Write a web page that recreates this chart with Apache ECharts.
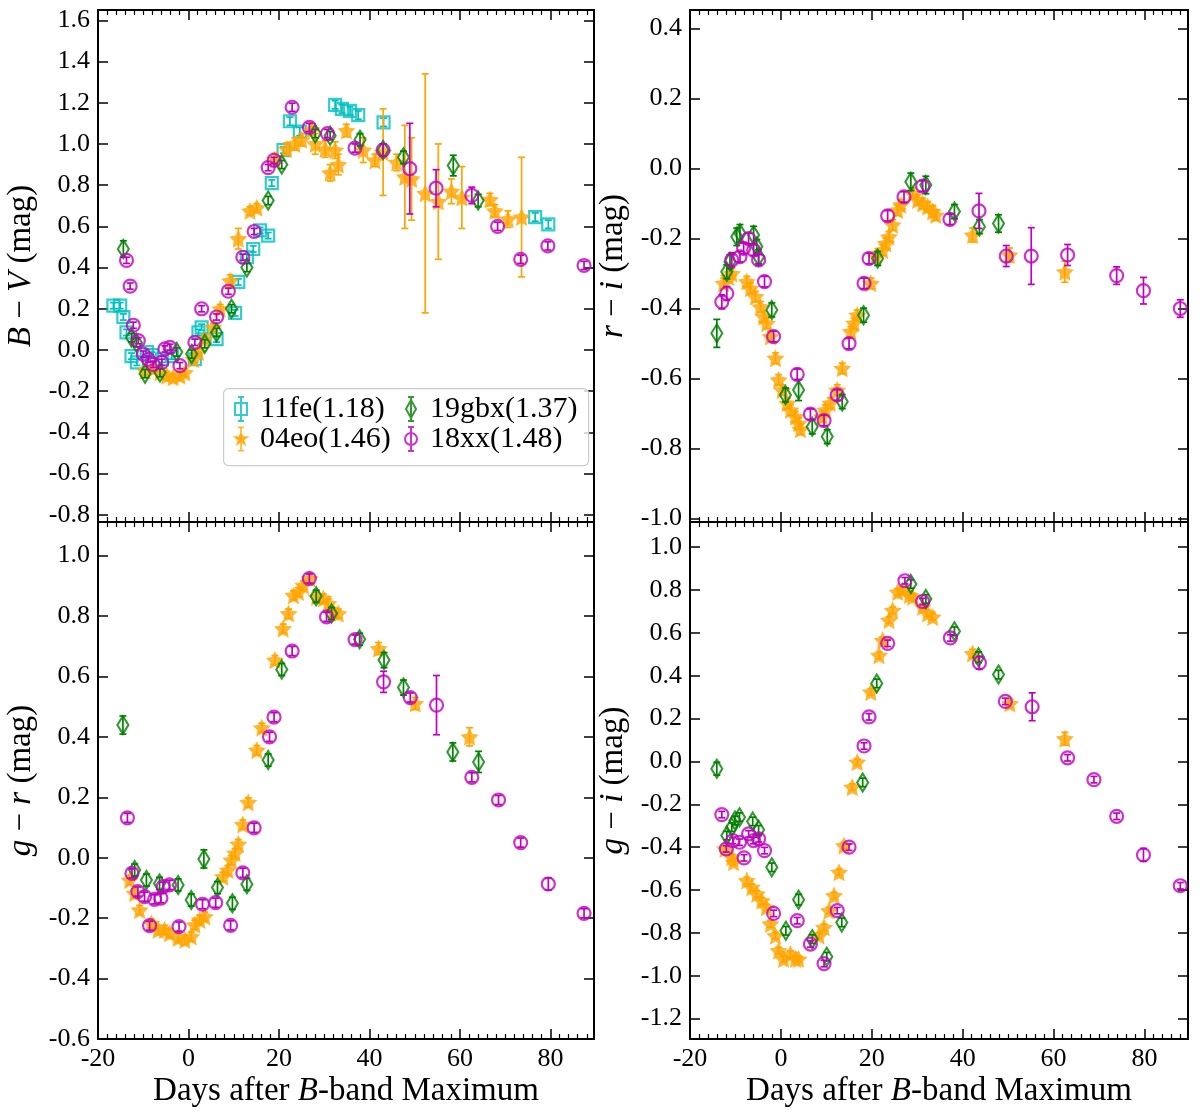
<!DOCTYPE html>
<html><head><meta charset="utf-8">
<script src="https://cdn.jsdelivr.net/npm/echarts@6/dist/echarts.min.js"></script>
<style>html,body{margin:0;padding:0;background:#fff}#c{width:1200px;height:1113px}</style>
</head><body><div id="c"></div>
<script>
// ---------- tick labels ----------
const xTicks = [-20, 0, 20, 40, 60, 80];
const xMinor = [-18,-16,-14,-12,-10,-8,-6,-4,-2,2,4,6,8,10,12,14,16,18,22,24,26,28,30,32,34,36,38,42,44,46,48,50,52,54,56,58,62,64,66,68,70,72,74,76,78,82,84,86,88];
const bvTicks = [-0.8,-0.6,-0.4,-0.2,0.0,0.2,0.4,0.6,0.8,1.0,1.2,1.4,1.6];
const riTicks = [-1.0,-0.8,-0.6,-0.4,-0.2,0.0,0.2,0.4];
const grTicks = [-0.6,-0.4,-0.2,0.0,0.2,0.4,0.6,0.8,1.0];
const giTicks = [-1.2,-1.0,-0.8,-0.6,-0.4,-0.2,0.0,0.2,0.4,0.6,0.8,1.0];

// ---------- data: [day, colour, error] ----------
// B-V
const bv_11fe = [[-16.6,0.215,0.015],[-15.1,0.215,0.015],[-14.4,0.16,0.015],[-13.7,0.085,0.015],[-12.6,-0.03,0.015],[-11.4,-0.06,0.015],[-9.2,-0.01,0.015],[-8.1,-0.025,0.015],[-5.9,-0.045,0.015],[-3.7,-0.03,0.015],[1.4,-0.045,0.015],[2.2,0.085,0.015],[2.9,0.11,0.015],[6.2,0.053,0.015],[10.3,0.18,0.015],[11.0,0.33,0.015],[12.9,0.45,0.015],[14.3,0.49,0.015],[15.8,0.58,0.015],[17.6,0.555,0.015],[18.4,0.81,0.015],[21.0,0.97,0.015],[22.4,1.11,0.02],[24.6,1.06,0.02],[32.4,1.19,0.02],[33.9,1.17,0.02],[35.7,1.16,0.02],[37.5,1.14,0.02],[43.1,1.105,0.02],[76.6,0.645,0.02],[79.5,0.61,0.02]];
const bv_04eo = [[-9.6,-0.1,0.02],[-7.8,-0.09,0.02],[-6.3,-0.11,0.02],[-4.8,-0.125,0.02],[-3.4,-0.133,0.02],[-1.9,-0.125,0.02],[-0.8,-0.11,0.02],[1.1,-0.045,0.02],[2.2,-0.01,0.02],[3.6,0.053,0.02],[5.5,0.11,0.02],[7.0,0.2,0.02],[9.2,0.335,0.03],[11.0,0.54,0.05],[13.6,0.675,0.02],[15.1,0.69,0.02],[19.1,0.925,0.03],[21.7,0.975,0.03],[23.5,1.0,0.03],[25.0,1.02,0.03],[27.2,1.07,0.03],[28.0,1.0,0.05],[30.2,0.975,0.04],[31.3,0.86,0.04],[32.4,0.97,0.04],[33.1,0.90,0.05],[34.9,1.065,0.03],[38.6,0.97,0.06],[41.2,0.92,0.03],[43.0,0.96,0.21],[46.0,0.91,0.04],[47.8,0.84,0.25],[49.3,0.83,0.2],[52.3,0.76,0.58],[55.2,0.72,0.28],[58.1,0.77,0.06],[60.4,0.74,0.15],[66.6,0.73,0.03],[67.7,0.675,0.03],[70.6,0.635,0.04],[73.6,0.645,0.29]];
const bv_19gbx = [[-14.4,0.49,0.04],[-12.6,0.06,0.02],[-11.5,0.035,0.02],[-9.6,-0.115,0.02],[-6.3,-0.11,0.02],[-2.6,-0.01,0.02],[0.7,-0.02,0.02],[3.6,0.03,0.02],[6.2,0.085,0.02],[9.5,0.2,0.02],[12.9,0.4,0.02],[17.6,0.725,0.02],[20.6,0.9,0.02],[28.0,1.05,0.02],[31.3,1.04,0.02],[37.9,1.02,0.03],[43.0,0.97,0.03],[47.5,0.935,0.03],[58.5,0.895,0.05],[64.0,0.725,0.03]];
const bv_18xx = [[-13.7,0.435,0.015],[-12.9,0.31,0.015],[-12.2,0.12,0.015],[-11.1,0.045,0.015],[-10.0,-0.02,0.015],[-8.9,-0.045,0.015],[-7.8,-0.07,0.015],[-5.9,-0.06,0.015],[-5.2,0.005,0.015],[-4.1,0.013,0.015],[-1.9,-0.076,0.015],[1.4,0.037,0.015],[2.9,0.2,0.015],[6.2,0.16,0.015],[8.8,0.285,0.015],[12.0,0.45,0.015],[14.5,0.575,0.015],[17.6,0.885,0.015],[18.9,0.92,0.015],[22.9,1.178,0.02],[26.7,1.08,0.02],[30.7,1.05,0.02],[36.8,0.98,0.02],[43.0,0.97,0.03],[48.9,0.88,0.22],[54.7,0.785,0.09],[62.6,0.75,0.04],[68.3,0.60,0.02],[73.4,0.44,0.02],[79.4,0.505,0.02],[87.4,0.41,0.02]];
// r-i
const ri_04eo = [[-12.6,-0.328,0.015],[-11.5,-0.31,0.015],[-10.8,-0.30,0.015],[-7.5,-0.323,0.015],[-6.7,-0.342,0.015],[-5.6,-0.366,0.015],[-4.5,-0.395,0.015],[-3.8,-0.423,0.015],[-3.1,-0.442,0.015],[-2.3,-0.48,0.015],[-1.2,-0.542,0.015],[-0.5,-0.604,0.015],[0.3,-0.633,0.015],[1.4,-0.671,0.015],[2.1,-0.69,0.015],[3.2,-0.709,0.015],[3.9,-0.728,0.015],[4.3,-0.745,0.015],[9.1,-0.709,0.015],[9.8,-0.69,0.015],[10.9,-0.67,0.015],[12.4,-0.633,0.015],[13.5,-0.571,0.015],[15.4,-0.466,0.015],[16.1,-0.442,0.015],[16.8,-0.419,0.015],[19.8,-0.328,0.015],[20.9,-0.252,0.015],[22.4,-0.233,0.015],[23.1,-0.214,0.015],[23.8,-0.195,0.015],[24.6,-0.161,0.015],[25.7,-0.119,0.015],[26.4,-0.104,0.015],[29.0,-0.071,0.015],[30.1,-0.09,0.015],[31.2,-0.10,0.015],[32.3,-0.109,0.015],[33.4,-0.123,0.015],[34.1,-0.133,0.015],[42.2,-0.19,0.02],[50.3,-0.247,0.02],[62.5,-0.295,0.03]];
const ri_19gbx = [[-14.1,-0.471,0.04],[-11.9,-0.295,0.02],[-11.2,-0.266,0.02],[-9.7,-0.195,0.025],[-9.0,-0.185,0.025],[-6.0,-0.19,0.025],[-5.3,-0.223,0.02],[-4.9,-0.252,0.02],[-2.0,-0.404,0.02],[1.0,-0.647,0.02],[3.9,-0.633,0.03],[6.9,-0.738,0.02],[10.2,-0.766,0.02],[13.5,-0.666,0.02],[18.2,-0.419,0.02],[21.3,-0.257,0.02],[28.6,-0.038,0.025],[31.9,-0.047,0.025],[38.2,-0.123,0.02],[43.7,-0.166,0.02],[47.9,-0.157,0.025]];
const ri_18xx = [[-13.0,-0.381,0.02],[-11.9,-0.357,0.02],[-10.8,-0.261,0.02],[-9.0,-0.252,0.015],[-8.2,-0.228,0.015],[-7.1,-0.2,0.015],[-6.0,-0.233,0.015],[-4.9,-0.261,0.015],[-3.6,-0.323,0.015],[-1.6,-0.48,0.015],[3.6,-0.588,0.015],[6.5,-0.702,0.015],[9.5,-0.72,0.015],[12.4,-0.647,0.015],[15.0,-0.50,0.015],[18.3,-0.328,0.015],[19.4,-0.257,0.015],[23.5,-0.135,0.015],[27.1,-0.081,0.015],[31.2,-0.05,0.015],[37.2,-0.145,0.015],[43.6,-0.121,0.05],[49.6,-0.25,0.03],[55.1,-0.25,0.081],[63.1,-0.247,0.03],[73.9,-0.306,0.025],[79.8,-0.349,0.038],[87.9,-0.40,0.025]];
// g-r
const gr_04eo = [[-13.0,-0.074,0.015],[-11.9,-0.118,0.015],[-10.8,-0.173,0.015],[-8.2,-0.217,0.015],[-6.7,-0.239,0.015],[-5.3,-0.239,0.015],[-4.2,-0.25,0.015],[-2.3,-0.266,0.015],[-0.8,-0.272,0.015],[0.6,-0.261,0.015],[1.4,-0.222,0.015],[2.5,-0.206,0.015],[3.6,-0.195,0.015],[7.6,-0.063,0.015],[8.7,-0.041,0.015],[9.5,-0.008,0.015],[10.3,0.015,0.015],[11.0,0.045,0.015],[12.0,0.11,0.015],[13.2,0.183,0.015],[15.1,0.356,0.015],[16.2,0.43,0.015],[19.1,0.654,0.015],[20.9,0.758,0.015],[22.1,0.808,0.015],[23.2,0.868,0.015],[24.3,0.879,0.015],[25.4,0.901,0.015],[26.8,0.924,0.015],[28.3,0.863,0.015],[29.8,0.858,0.015],[30.9,0.841,0.015],[32.0,0.813,0.015],[33.1,0.808,0.015],[42.0,0.692,0.02],[50.1,0.51,0.02],[62.1,0.40,0.03]];
const gr_19gbx = [[-14.5,0.439,0.03],[-11.9,-0.041,0.02],[-9.3,-0.074,0.02],[-6.4,-0.085,0.02],[-2.3,-0.09,0.02],[0.6,-0.14,0.02],[3.4,-0.004,0.03],[6.4,-0.099,0.02],[9.7,-0.151,0.02],[12.9,-0.088,0.02],[17.6,0.323,0.02],[20.6,0.623,0.02],[28.2,0.865,0.02],[31.6,0.808,0.02],[37.8,0.723,0.02],[43.2,0.654,0.025],[47.5,0.563,0.025],[58.4,0.35,0.03],[64.1,0.317,0.035]];
const gr_18xx = [[-13.5,0.132,0.015],[-12.5,-0.052,0.015],[-11.2,-0.112,0.015],[-9.7,-0.129,0.015],[-8.6,-0.225,0.015],[-7.5,-0.138,0.015],[-6.1,-0.134,0.015],[-5.6,-0.096,0.015],[-4.2,-0.09,0.015],[-2.1,-0.228,0.015],[3.1,-0.154,0.015],[6.0,-0.149,0.015],[9.3,-0.224,0.015],[12.0,-0.05,0.015],[14.5,0.099,0.015],[17.9,0.40,0.015],[18.9,0.465,0.015],[22.9,0.684,0.015],[26.7,0.924,0.015],[30.5,0.797,0.015],[36.8,0.722,0.015],[43.1,0.582,0.035],[49.0,0.53,0.015],[54.8,0.505,0.098],[62.6,0.266,0.015],[68.5,0.191,0.015],[73.4,0.05,0.015],[79.5,-0.087,0.02],[87.4,-0.184,0.015]];
// g-i
const gi_04eo = [[-12.3,-0.408,0.015],[-10.8,-0.447,0.015],[-10.4,-0.47,0.015],[-7.5,-0.556,0.015],[-6.4,-0.587,0.015],[-5.3,-0.618,0.015],[-4.2,-0.65,0.015],[-3.2,-0.681,0.015],[-2.3,-0.758,0.015],[-1.2,-0.813,0.015],[-0.5,-0.883,0.015],[0.6,-0.922,0.015],[2.1,-0.899,0.015],[3.2,-0.922,0.015],[3.9,-0.922,0.015],[8.4,-0.813,0.015],[9.5,-0.774,0.015],[10.6,-0.696,0.015],[11.7,-0.626,0.015],[12.8,-0.517,0.015],[13.9,-0.393,0.015],[15.7,-0.12,0.015],[16.8,-0.003,0.015],[19.8,0.324,0.015],[21.6,0.495,0.015],[22.4,0.565,0.015],[23.8,0.659,0.015],[24.6,0.705,0.015],[25.7,0.79,0.015],[26.8,0.799,0.015],[28.3,0.776,0.015],[29.0,0.768,0.015],[31.2,0.721,0.015],[32.3,0.69,0.015],[33.4,0.674,0.015],[42.2,0.503,0.02],[50.4,0.27,0.02],[62.5,0.106,0.03]];
const gi_19gbx = [[-14.1,-0.034,0.03],[-11.9,-0.346,0.02],[-10.8,-0.307,0.02],[-10.1,-0.276,0.02],[-9.1,-0.26,0.02],[-6.2,-0.28,0.02],[-4.9,-0.319,0.02],[-2.0,-0.494,0.02],[1.1,-0.79,0.02],[3.9,-0.645,0.025],[6.9,-0.829,0.02],[10.1,-0.911,0.02],[13.4,-0.751,0.02],[18.0,-0.098,0.02],[21.1,0.364,0.02],[28.6,0.828,0.02],[31.9,0.758,0.02],[38.2,0.607,0.02],[43.5,0.486,0.025],[47.9,0.405,0.02]];
const gi_18xx = [[-13.0,-0.248,0.015],[-12.0,-0.408,0.015],[-10.6,-0.369,0.015],[-9.1,-0.377,0.015],[-8.1,-0.45,0.015],[-7.1,-0.338,0.015],[-6.0,-0.369,0.015],[-4.9,-0.361,0.015],[-3.6,-0.416,0.015],[-1.6,-0.709,0.015],[3.6,-0.743,0.015],[6.5,-0.852,0.015],[9.5,-0.943,0.015],[12.4,-0.696,0.015],[15.0,-0.40,0.015],[18.3,0.072,0.015],[19.4,0.208,0.015],[23.5,0.551,0.015],[27.3,0.843,0.015],[31.2,0.746,0.015],[37.3,0.576,0.015],[43.7,0.46,0.03],[49.4,0.28,0.015],[55.3,0.255,0.065],[63.1,0.017,0.015],[68.9,-0.085,0.015],[73.9,-0.256,0.015],[79.8,-0.436,0.03],[87.9,-0.58,0.015]];

// ---------- styling ----------
const FONT = 'Liberation Serif';
const X_MIN = -20, X_MAX = 89.6;
const C = {fe:'#00BFBF', eo:'#FFA500', gbx:'#008000', xx:'#BF00BF'};
const NAMES = {fe:'11fe(1.18)', eo:'04eo(1.46)', gbx:'19gbx(1.37)', xx:'18xx(1.48)'};
const STAR = 'path://M0,-10L2.94,-4.05L9.51,-3.09L4.76,1.55L5.88,8.09L0,5L-5.88,8.09L-4.76,1.55L-9.51,-3.09L-2.94,-4.05Z';
const SYM = {
  fe: {symbol:'rect', size:12, style:{color:'rgba(0,0,0,0)', borderColor:C.fe, borderWidth:2.2}},
  eo: {symbol:STAR, size:18, style:{color:C.eo, borderWidth:0}},
  gbx:{symbol:'diamond', size:[11,18], style:{color:'rgba(0,0,0,0)', borderColor:C.gbx, borderWidth:2.2}},
  xx: {symbol:'circle', size:13, style:{color:'rgba(0,0,0,0)', borderColor:C.xx, borderWidth:2.2}}
};
const ICON = {
  fe: 'path://M6,0L6,24M3,0L9,0M3,24L9,24M0,6L12,6L12,18L0,18Z',
  eo: 'path://M6,0L6,24M3,0L9,0M3,24L9,24M6,5.5L7.53,9.9L12.18,9.99L8.47,12.8L9.82,17.26L6,14.6L2.18,17.26L3.53,12.8L-0.18,9.99L4.47,9.9Z',
  gbx:'path://M6,0L6,24M3,0L9,0M3,24L9,24M6,3L11,12L6,21L1,12Z',
  xx: 'path://M6,0L6,24M3,0L9,0M3,24L9,24M0,12A6,6,0,1,1,12,12A6,6,0,1,1,0,12Z'
};

const panels = [
  {grid:{left:98, top:10, width:496, height:512}, yMin:-0.835, yMax:1.65, ticks:bvTicks, name:'{i|B}{r| − }{i|V}{r| (mag)}',
   sets:{fe:bv_11fe, eo:bv_04eo, gbx:bv_19gbx, xx:bv_18xx}},
  {grid:{left:690, top:10, width:498, height:512}, yMin:-1.01, yMax:0.453, ticks:riTicks, name:'{i|r}{r| − }{i|i}{r| (mag)}',
   sets:{eo:ri_04eo, gbx:ri_19gbx, xx:ri_18xx}},
  {grid:{left:98, top:522, width:496, height:517}, yMin:-0.6, yMax:1.111, ticks:grTicks, name:'{i|g}{r| − }{i|r}{r| (mag)}',
   sets:{eo:gr_04eo, gbx:gr_19gbx, xx:gr_18xx}},
  {grid:{left:690, top:522, width:498, height:517}, yMin:-1.295, yMax:1.117, ticks:giTicks, name:'{i|g}{r| − }{i|i}{r| (mag)}',
   sets:{eo:gi_04eo, gbx:gi_19gbx, xx:gi_18xx}}
];

const nameStyle = {fontFamily:FONT, fontSize:33, color:'#000',
  rich:{i:{fontFamily:FONT, fontSize:33, fontStyle:'italic', color:'#000'}, r:{fontFamily:FONT, fontSize:33, color:'#000'}}};
const lineC = {color:'#000', width:2};
const tickC = {color:'#000', width:1.5};

function errRender(color){
  return function(params, api){
    const x = api.value(0), y = api.value(1), e = api.value(2);
    const t = api.coord([x, y + e]), b = api.coord([x, y - e]);
    const cw = 3.5, st = {stroke:color, lineWidth:1.7};
    return {type:'group', children:[
      {type:'line', shape:{x1:t[0], y1:t[1], x2:b[0], y2:b[1]}, style:st},
      {type:'line', shape:{x1:t[0]-cw, y1:t[1], x2:t[0]+cw, y2:t[1]}, style:st},
      {type:'line', shape:{x1:b[0]-cw, y1:b[1], x2:b[0]+cw, y2:b[1]}, style:st}
    ]};
  };
}

const grids = [], xAxes = [], yAxes = [], series = [];
panels.forEach((p, i) => {
  grids.push(p.grid);
  const showX = i >= 2;
  ['bottom','top'].forEach(pos => {
    const lab = showX && pos === 'bottom';
    xAxes.push({gridIndex:i, type:'value', position:pos, min:X_MIN, max:X_MAX,
      axisLine:{show:true, onZero:false, lineStyle:lineC},
      axisTick:{show:true, inside:true, length:10, customValues:xTicks, lineStyle:tickC},
      axisLabel:{show:lab, customValues:xTicks, margin:7, fontFamily:FONT, fontSize:26, color:'#000'},
      splitLine:{show:false},
      name: lab ? '{r|Days after }{i|B}{r|-band Maximum}' : '', nameLocation:'middle', nameGap:36, nameTextStyle:nameStyle});
    xAxes.push({gridIndex:i, type:'value', position:pos, min:X_MIN, max:X_MAX,
      axisLine:{show:false, onZero:false},
      axisTick:{show:true, inside:true, length:5, customValues:xMinor, lineStyle:{color:'#000', width:1.2}},
      axisLabel:{show:false}, splitLine:{show:false}});
  });
  ['left','right'].forEach(pos => {
    const lab = pos === 'left';
    yAxes.push({gridIndex:i, type:'value', position:pos, min:p.yMin, max:p.yMax,
      axisLine:{show:true, onZero:false, lineStyle:lineC},
      axisTick:{show:true, inside:true, length:10, customValues:p.ticks, lineStyle:tickC},
      axisLabel:{show:lab, customValues:p.ticks, formatter:v => v.toFixed(1), margin:8, fontFamily:FONT, fontSize:26, color:'#000'},
      splitLine:{show:false},
      name: lab ? p.name : '', nameLocation:'middle', nameGap:60, nameRotate:90, nameTextStyle:nameStyle});
  });
  ['fe','eo','gbx','xx'].forEach((k, j) => {
    const arr = p.sets[k];
    if (!arr) return;
    series.push({type:'custom', name:NAMES[k] + ' err', xAxisIndex:4*i, yAxisIndex:2*i,
      data:arr, encode:{x:0, y:1}, renderItem:errRender(C[k]), clip:true, silent:true, z:10 + 2*j});
    series.push({type:'scatter', name:NAMES[k], xAxisIndex:4*i, yAxisIndex:2*i,
      data:arr.map(r => [r[0], r[1]]), symbol:SYM[k].symbol, symbolSize:SYM[k].size,
      itemStyle:SYM[k].style, clip:true, silent:true, z:11 + 2*j});
  });
});

function legItem(k){
  const st = k === 'eo' ? {color:C.eo, borderColor:C.eo, borderWidth:1.7}
                        : {color:'rgba(0,0,0,0)', borderColor:C[k], borderWidth:2};
  return {name:NAMES[k], icon:ICON[k], itemStyle:st};
}
const legBase = {orient:'vertical', top:389, itemWidth:12, itemHeight:24, itemGap:0, z:50,
  selectedMode:false, formatter:n => '{t|' + n + '}',
  textStyle:{rich:{t:{fontFamily:FONT, fontSize:30, color:'#000', lineHeight:27, padding:[0,0,0,8]}}}};

const chart = echarts.init(document.getElementById('c'), null, {renderer:'canvas'});
chart.setOption({
  animation:false,
  backgroundColor:'#fff',
  grid:grids, xAxis:xAxes, yAxis:yAxes, series:series,
  legend:[
    Object.assign({}, legBase, {left:229, data:[legItem('fe'), legItem('eo')]}),
    Object.assign({}, legBase, {left:399, data:[legItem('gbx'), legItem('xx')]})
  ],
  graphic:[{type:'rect', left:223, top:388, z:49,
    shape:{width:365, height:77, r:5},
    style:{fill:'rgba(255,255,255,0.8)', stroke:'#cccccc', lineWidth:1.2}}]
});
</script></body></html>
